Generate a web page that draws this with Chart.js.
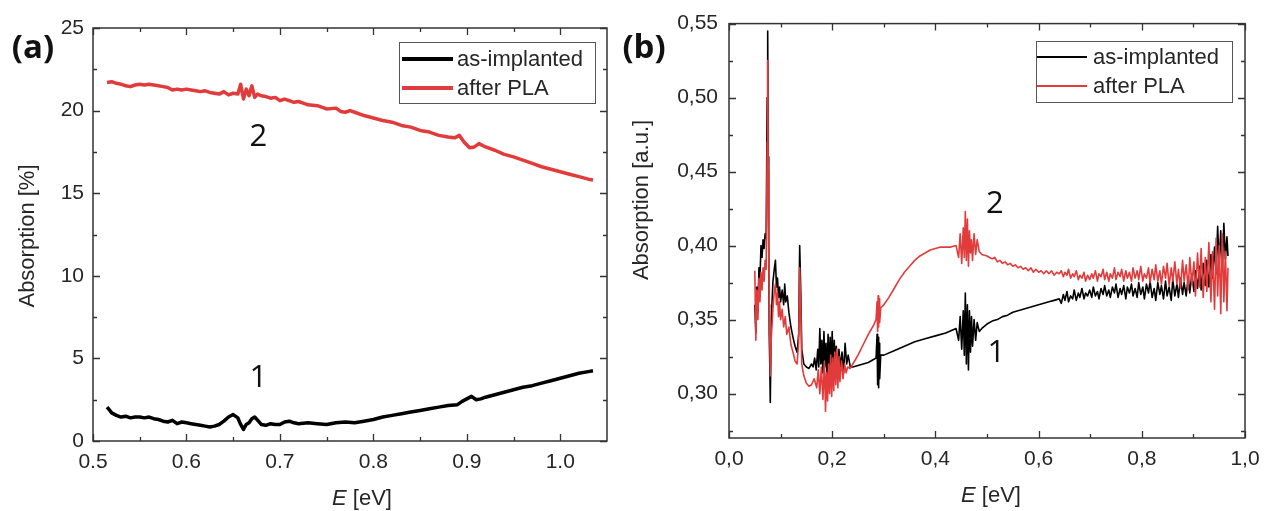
<!DOCTYPE html>
<html>
<head>
<meta charset="utf-8">
<script src="https://cdn.jsdelivr.net/npm/chart.js@4.4.1/dist/chart.umd.min.js"></script>
<style>
  html, body { margin: 0; padding: 0; background: #fff; }
  body { width: 1272px; height: 511px; position: relative; overflow: hidden; }
  canvas { position: absolute; top: 0; }
  #chartA { left: 0; }
  #chartB { left: 612px; }
</style>
</head>
<body>
<canvas id="chartA" width="612" height="511"></canvas>
<canvas id="chartB" width="660" height="511"></canvas>
<script>
// ---- data: panel (a), [E (eV), absorption %] ----
const implantedA = [
  [0.515,2.05],[0.518,1.85],[0.520,1.70],[0.525,1.55],[0.530,1.45],[0.535,1.50],[0.540,1.40],[0.545,1.45],
  [0.550,1.45],[0.555,1.40],[0.560,1.45],[0.565,1.35],[0.570,1.30],[0.575,1.20],[0.580,1.15],[0.585,1.25],
  [0.590,1.05],[0.595,1.15],[0.600,1.10],[0.605,1.05],[0.610,1.00],[0.615,0.95],[0.620,0.90],[0.625,0.85],
  [0.630,0.90],[0.635,1.00],[0.640,1.20],[0.645,1.45],[0.650,1.60],[0.655,1.40],[0.658,1.00],[0.661,0.70],
  [0.664,1.00],[0.667,1.10],[0.670,1.35],[0.673,1.45],[0.677,1.20],[0.680,1.00],[0.685,0.95],[0.690,1.05],
  [0.695,1.00],[0.700,1.00],[0.705,1.15],[0.710,1.20],[0.715,1.10],[0.720,1.05],[0.730,1.10],[0.740,1.05],
  [0.750,1.00],[0.760,1.10],[0.770,1.15],[0.780,1.10],[0.790,1.20],[0.800,1.30],[0.810,1.45],[0.820,1.55],
  [0.830,1.65],[0.840,1.75],[0.850,1.85],[0.860,1.95],[0.870,2.05],[0.880,2.15],[0.890,2.20],[0.895,2.40],
  [0.900,2.55],[0.905,2.70],[0.910,2.50],[0.915,2.55],[0.920,2.65],[0.930,2.80],[0.940,2.95],[0.950,3.10],
  [0.960,3.25],[0.970,3.35],[0.980,3.50],[0.990,3.65],[1.000,3.80],[1.010,3.95],[1.020,4.10],[1.030,4.20],[1.035,4.25]
];
const plaA = [
  [0.515,21.70],[0.520,21.75],[0.525,21.65],[0.530,21.60],[0.535,21.50],[0.540,21.45],[0.545,21.55],[0.550,21.60],
  [0.555,21.55],[0.560,21.60],[0.565,21.55],[0.570,21.50],[0.575,21.45],[0.580,21.40],[0.585,21.25],[0.590,21.30],
  [0.595,21.25],[0.600,21.30],[0.605,21.25],[0.610,21.20],[0.615,21.15],[0.620,21.20],[0.625,21.10],[0.630,21.05],
  [0.635,21.00],[0.640,21.15],[0.645,20.95],[0.650,21.05],[0.655,21.00],[0.658,21.60],[0.661,20.70],[0.664,21.30],
  [0.667,20.90],[0.670,21.50],[0.673,20.80],[0.676,21.00],[0.680,20.90],[0.685,20.85],[0.690,20.75],[0.695,20.80],
  [0.700,20.60],[0.705,20.70],[0.710,20.60],[0.715,20.50],[0.720,20.55],[0.725,20.45],[0.730,20.35],[0.740,20.30],
  [0.750,20.10],[0.760,20.15],[0.765,19.95],[0.770,19.90],[0.775,20.00],[0.780,19.90],[0.790,19.70],[0.800,19.55],
  [0.810,19.40],[0.820,19.30],[0.830,19.10],[0.840,19.00],[0.850,18.80],[0.860,18.70],[0.870,18.50],[0.880,18.40],
  [0.887,18.35],[0.892,18.50],[0.897,18.10],[0.903,17.75],[0.908,17.80],[0.913,18.00],[0.920,17.80],[0.930,17.60],
  [0.940,17.35],[0.950,17.20],[0.960,17.00],[0.970,16.80],[0.980,16.60],[0.990,16.45],[1.000,16.30],[1.010,16.15],
  [1.020,16.00],[1.030,15.85],[1.035,15.80]
];

// ---- data: panel (b), [E (eV), absorption a.u.] ----
const implantedB = [
  [0.050,0.360],[0.052,0.341],[0.054,0.372],[0.056,0.355],[0.058,0.385],[0.060,0.378],[0.062,0.400],[0.064,0.392],
  [0.066,0.404],[0.068,0.398],[0.070,0.408],[0.072,0.405],[0.074,0.500],[0.075,0.545],[0.076,0.460],[0.077,0.400],
  [0.078,0.340],[0.079,0.320],[0.080,0.294],[0.082,0.350],[0.085,0.375],[0.088,0.385],[0.090,0.390],[0.092,0.372],
  [0.094,0.378],[0.096,0.365],[0.098,0.372],[0.100,0.362],[0.103,0.370],[0.106,0.360],[0.108,0.374],[0.110,0.362],
  [0.113,0.366],[0.116,0.355],[0.120,0.345],[0.124,0.338],[0.128,0.332],[0.132,0.328],[0.135,0.340],[0.137,0.400],
  [0.139,0.370],[0.141,0.330],[0.145,0.320],[0.150,0.318],[0.155,0.317],[0.160,0.320],[0.163,0.318],[0.166,0.324],
  [0.169,0.316],[0.172,0.330],[0.174,0.318],[0.176,0.344],[0.178,0.320],[0.180,0.336],[0.182,0.314],[0.184,0.342],
  [0.186,0.318],[0.188,0.334],[0.190,0.312],[0.192,0.340],[0.194,0.316],[0.196,0.338],[0.198,0.318],[0.200,0.342],
  [0.202,0.314],[0.204,0.336],[0.206,0.318],[0.208,0.332],[0.210,0.312],[0.213,0.330],[0.216,0.318],[0.219,0.328],
  [0.222,0.314],[0.225,0.334],[0.228,0.320],[0.231,0.326],[0.235,0.318],[0.240,0.318],[0.250,0.319],[0.260,0.320],
  [0.270,0.321],[0.280,0.323],[0.285,0.324],[0.287,0.340],[0.288,0.306],[0.289,0.338],[0.290,0.304],[0.291,0.334],
  [0.292,0.310],[0.294,0.326],[0.300,0.326],[0.320,0.329],[0.340,0.332],[0.360,0.335],[0.380,0.337],[0.400,0.339],
  [0.420,0.341],[0.440,0.344],[0.445,0.336],[0.448,0.352],[0.451,0.330],[0.454,0.356],[0.456,0.326],[0.458,0.368],
  [0.460,0.320],[0.462,0.360],[0.464,0.316],[0.466,0.356],[0.468,0.328],[0.470,0.352],[0.472,0.332],[0.475,0.350],
  [0.478,0.336],[0.481,0.348],[0.485,0.342],[0.490,0.344],[0.500,0.347],[0.510,0.349],[0.520,0.350],[0.530,0.352],
  [0.540,0.353],[0.550,0.355],[0.560,0.356],[0.570,0.357],[0.580,0.358],[0.590,0.359],[0.600,0.360],[0.610,0.361],
  [0.620,0.362],[0.630,0.363],
  [0.640,0.364],[0.644,0.361],[0.648,0.367],[0.651,0.363],[0.655,0.369],[0.658,0.362],[0.662,0.366],[0.666,0.364],
  [0.669,0.370],[0.673,0.363],[0.677,0.368],[0.680,0.365],[0.684,0.371],[0.688,0.364],[0.691,0.368],[0.695,0.366],
  [0.699,0.370],[0.703,0.365],[0.706,0.372],[0.710,0.366],[0.714,0.369],[0.717,0.364],[0.721,0.371],[0.725,0.367],
  [0.728,0.373],[0.732,0.366],[0.736,0.370],[0.739,0.365],[0.743,0.372],[0.747,0.368],[0.750,0.374],[0.754,0.365],
  [0.758,0.371],[0.761,0.367],[0.765,0.373],[0.769,0.364],[0.772,0.372],[0.776,0.368],[0.780,0.374],[0.783,0.366],
  [0.787,0.371],[0.791,0.365],[0.794,0.375],[0.798,0.367],[0.802,0.372],[0.805,0.364],[0.809,0.374],[0.813,0.368],
  [0.816,0.376],[0.820,0.365],[0.824,0.371],[0.827,0.363],[0.831,0.375],[0.835,0.367],[0.838,0.373],[0.842,0.364],
  [0.846,0.376],[0.849,0.366],[0.853,0.372],[0.857,0.363],[0.860,0.377],[0.864,0.366],[0.868,0.374],[0.871,0.365],
  [0.875,0.378],[0.879,0.367],[0.882,0.375],[0.886,0.366],[0.890,0.379],[0.893,0.368],[0.897,0.381],[0.901,0.369],
  [0.904,0.383],[0.908,0.371],[0.912,0.386],[0.915,0.370],[0.919,0.388],[0.923,0.373],[0.926,0.390],[0.930,0.372],
  [0.934,0.394],[0.937,0.378],[0.941,0.399],[0.944,0.381],[0.947,0.413],[0.950,0.386],[0.953,0.410],[0.956,0.384],
  [0.959,0.415],[0.962,0.391],[0.965,0.406],[0.967,0.393]
];
const plaB = [
  [0.050,0.383],[0.052,0.336],[0.054,0.370],[0.056,0.350],[0.058,0.378],[0.060,0.362],[0.062,0.382],[0.064,0.370],
  [0.066,0.385],[0.068,0.376],[0.070,0.390],[0.072,0.384],[0.074,0.470],[0.075,0.525],[0.076,0.450],[0.077,0.395],
  [0.078,0.360],[0.079,0.340],[0.080,0.312],[0.082,0.338],[0.084,0.350],[0.086,0.362],[0.088,0.370],[0.090,0.374],
  [0.092,0.360],[0.094,0.368],[0.096,0.352],[0.098,0.362],[0.100,0.350],[0.103,0.357],[0.106,0.345],[0.109,0.352],
  [0.112,0.340],[0.116,0.345],[0.120,0.333],[0.124,0.328],[0.128,0.322],[0.132,0.320],[0.135,0.335],[0.137,0.385],
  [0.139,0.360],[0.141,0.320],[0.145,0.312],[0.150,0.307],[0.155,0.305],[0.160,0.306],[0.165,0.310],[0.170,0.304],
  [0.173,0.316],[0.176,0.300],[0.179,0.318],[0.182,0.296],[0.185,0.322],[0.187,0.288],[0.189,0.314],[0.191,0.295],
  [0.193,0.320],[0.195,0.300],[0.197,0.326],[0.199,0.298],[0.201,0.324],[0.203,0.302],[0.205,0.328],[0.207,0.306],
  [0.209,0.330],[0.211,0.304],[0.213,0.325],[0.215,0.308],[0.218,0.322],[0.221,0.310],[0.224,0.320],[0.227,0.314],
  [0.230,0.318],[0.235,0.317],[0.240,0.320],[0.250,0.326],[0.260,0.333],[0.270,0.340],[0.280,0.346],[0.285,0.350],
  [0.287,0.362],[0.288,0.342],[0.289,0.366],[0.290,0.345],[0.291,0.364],[0.292,0.348],[0.294,0.358],[0.300,0.360],
  [0.310,0.365],[0.320,0.371],[0.330,0.377],[0.340,0.382],[0.350,0.386],[0.360,0.390],[0.370,0.393],[0.380,0.395],
  [0.390,0.397],[0.400,0.398],[0.410,0.399],[0.420,0.399],[0.430,0.399],[0.440,0.400],[0.445,0.392],[0.448,0.408],
  [0.451,0.388],[0.454,0.412],[0.456,0.392],[0.458,0.423],[0.460,0.390],[0.462,0.418],[0.464,0.386],[0.466,0.410],
  [0.468,0.395],[0.470,0.404],[0.472,0.390],[0.475,0.408],[0.478,0.394],[0.481,0.404],[0.485,0.396],[0.490,0.394],
  [0.500,0.393],[0.505,0.392],[0.510,0.391],[0.515,0.392],[0.520,0.389],[0.525,0.390],[0.530,0.388],[0.535,0.389],
  [0.540,0.387],[0.545,0.388],[0.550,0.386],[0.555,0.387],[0.560,0.385],[0.565,0.386],[0.570,0.384],[0.575,0.385],
  [0.580,0.383],[0.585,0.385],[0.590,0.382],[0.595,0.384],[0.600,0.382],[0.605,0.383],[0.610,0.381],[0.615,0.383],
  [0.620,0.381],[0.625,0.383],[0.630,0.380],[0.635,0.382],
  [0.640,0.381],[0.644,0.383],[0.648,0.379],[0.651,0.382],[0.655,0.380],[0.658,0.384],[0.662,0.378],[0.666,0.381],
  [0.669,0.379],[0.673,0.383],[0.677,0.377],[0.680,0.380],[0.684,0.378],[0.688,0.382],[0.691,0.376],[0.695,0.380],
  [0.699,0.377],[0.703,0.381],[0.706,0.378],[0.710,0.383],[0.714,0.376],[0.717,0.381],[0.721,0.379],[0.725,0.384],
  [0.728,0.377],[0.732,0.382],[0.736,0.376],[0.739,0.381],[0.743,0.378],[0.747,0.385],[0.750,0.377],[0.754,0.382],
  [0.758,0.379],[0.761,0.384],[0.765,0.376],[0.769,0.383],[0.772,0.378],[0.776,0.382],[0.780,0.376],[0.783,0.385],
  [0.787,0.378],[0.791,0.383],[0.794,0.377],[0.798,0.386],[0.802,0.376],[0.805,0.381],[0.809,0.378],[0.813,0.385],
  [0.816,0.375],[0.820,0.384],[0.824,0.377],[0.827,0.387],[0.831,0.376],[0.835,0.383],[0.838,0.374],[0.842,0.386],
  [0.846,0.378],[0.849,0.388],[0.853,0.373],[0.857,0.385],[0.860,0.376],[0.864,0.389],[0.868,0.374],[0.871,0.384],
  [0.875,0.371],[0.879,0.390],[0.882,0.376],[0.886,0.387],[0.890,0.370],[0.893,0.392],[0.897,0.374],[0.901,0.389],
  [0.904,0.366],[0.908,0.395],[0.912,0.372],[0.915,0.398],[0.919,0.365],[0.923,0.392],[0.926,0.369],[0.930,0.402],
  [0.934,0.362],[0.937,0.396],[0.941,0.357],[0.944,0.405],[0.947,0.366],[0.950,0.400],[0.953,0.354],[0.956,0.408],
  [0.959,0.362],[0.962,0.396],[0.965,0.356],[0.967,0.385]
];

// ---- ticks ----
const xTicksA = [0.5, 0.6, 0.7, 0.8, 0.9, 1.0];
const xMinorA = [0.55, 0.65, 0.75, 0.85, 0.95];
const yTicksA = [0, 5, 10, 15, 20, 25];
const yMinorA = [2.5, 7.5, 12.5, 17.5, 22.5];
const xTicksB = [0.0, 0.2, 0.4, 0.6, 0.8, 1.0];
const xMinorB = [0.1, 0.3, 0.5, 0.7, 0.9];
const yTicksB = [0.30, 0.35, 0.40, 0.45, 0.50, 0.55];
const yMinorB = [0.275, 0.325, 0.375, 0.425, 0.475, 0.525];

const seriesNames = ['as-implanted', 'after PLA'];
const BLACK = '#000000';
const RED = '#e23b3b';
const SANS = '"Liberation Sans", Arial, sans-serif';
const OPEN = '"Open Sans", "Noto Sans", sans-serif';
const INK = '#262626';

const toXY = (pairs) => pairs.map(p => ({ x: p[0], y: p[1] }));
const comma = (v, d) => v.toFixed(d).replace('.', ',');

// frame, inward ticks, titles, labels and legend
const framePlugin = {
  id: 'frame',
  afterDraw(chart, args, o) {
    const { ctx, chartArea: a } = chart;
    const sx = chart.scales.x, sy = chart.scales.y;
    ctx.save();
    ctx.strokeStyle = '#333';
    ctx.lineWidth = 1.5;
    ctx.strokeRect(a.left, a.top, a.right - a.left, a.bottom - a.top);

    const xt = (vals, len) => vals.forEach(v => {
      const px = Math.round(sx.getPixelForValue(v)) + 0.5;
      ctx.beginPath();
      ctx.moveTo(px, a.bottom); ctx.lineTo(px, a.bottom - len);
      ctx.moveTo(px, a.top); ctx.lineTo(px, a.top + len);
      ctx.stroke();
    });
    const yt = (vals, len) => vals.forEach(v => {
      const py = Math.round(sy.getPixelForValue(v)) + 0.5;
      ctx.beginPath();
      ctx.moveTo(a.left, py); ctx.lineTo(a.left + len, py);
      ctx.moveTo(a.right, py); ctx.lineTo(a.right - len, py);
      ctx.stroke();
    });
    ctx.lineWidth = 1.3;
    xt(o.xMajor, 7); xt(o.xMinor, 4);
    yt(o.yMajor, 7); yt(o.yMinor, 4);

    ctx.fillStyle = INK;
    ctx.textBaseline = 'middle';

    // y title
    ctx.save();
    ctx.translate(o.yTitle.x, o.yTitle.y);
    ctx.rotate(-Math.PI / 2);
    ctx.textAlign = 'center';
    ctx.font = '22px ' + SANS;
    ctx.fillText(o.yTitle.text, 0, 0);
    ctx.restore();

    // x title: italic E [eV]
    ctx.textAlign = 'left';
    ctx.font = 'italic 22px ' + SANS;
    const wE = ctx.measureText('E').width;
    ctx.font = '22px ' + SANS;
    const wR = ctx.measureText(' [eV]').width;
    const x0 = o.xTitle.x - (wE + wR) / 2;
    ctx.font = 'italic 22px ' + SANS;
    ctx.fillText('E', x0, o.xTitle.y);
    ctx.font = '22px ' + SANS;
    ctx.fillText(' [eV]', x0 + wE, o.xTitle.y);

    // panel letter
    ctx.fillStyle = '#111';
    ctx.textAlign = 'center';
    ctx.font = 'bold 33px ' + OPEN;
    ctx.fillText(o.panel.text, o.panel.x, o.panel.y);

    // curve numbers placed in data coordinates
    ctx.font = '31px ' + OPEN;
    o.marks.forEach(m => {
      ctx.fillText(m.text, sx.getPixelForValue(m.x), sy.getPixelForValue(m.y));
    });

    // legend
    const L = o.legend;
    ctx.fillStyle = '#fff';
    ctx.fillRect(L.x1, L.y1, L.x2 - L.x1, L.y2 - L.y1);
    ctx.strokeStyle = '#555';
    ctx.lineWidth = 1;
    ctx.strokeRect(L.x1 + 0.5, L.y1 + 0.5, L.x2 - L.x1, L.y2 - L.y1);
    ctx.font = '22px ' + SANS;
    ctx.textAlign = 'left';
    chart.data.datasets.forEach((ds, i) => {
      const yy = L.rows[i];
      ctx.strokeStyle = ds.borderColor;
      ctx.lineWidth = L.lw;
      ctx.beginPath();
      ctx.moveTo(L.lx1, yy); ctx.lineTo(L.lx2, yy);
      ctx.stroke();
      ctx.fillStyle = INK;
      ctx.fillText(ds.label, L.tx, yy + 1);
    });
    ctx.restore();
  }
};

function makeScales(c) {
  return {
    x: {
      type: 'linear', min: c.xMin, max: c.xMax,
      grid: { display: false, drawTicks: false }, border: { display: false },
      ticks: { font: { family: SANS, size: 21 }, color: INK, padding: 9, maxRotation: 0, autoSkip: false, callback: c.fmtX },
      afterBuildTicks: s => { s.ticks = c.xTicks.map(v => ({ value: v })); },
      afterFit: s => { s.height = c.xH; }
    },
    y: {
      type: 'linear', min: c.yMin, max: c.yMax,
      grid: { display: false, drawTicks: false }, border: { display: false },
      ticks: { font: { family: SANS, size: 21 }, color: INK, padding: c.yPad, autoSkip: false, callback: c.fmtY },
      afterBuildTicks: s => { s.ticks = c.yTicks.map(v => ({ value: v })); },
      afterFit: s => { s.width = c.yW; }
    }
  };
}

function makeChart(id, c) {
  return new Chart(document.getElementById(id), {
    type: 'line',
    data: {
      datasets: [
        { label: seriesNames[0], data: toXY(c.implanted), borderColor: BLACK, borderWidth: c.lw, order: 1 },
        { label: seriesNames[1], data: toXY(c.pla), borderColor: RED, borderWidth: c.lw, order: 0 }
      ]
    },
    options: {
      responsive: false,
      animation: false,
      devicePixelRatio: 1,
      elements: { point: { radius: 0 }, line: { tension: 0, borderJoinStyle: 'round' } },
      layout: { padding: c.pad },
      plugins: { legend: { display: false }, tooltip: { enabled: false }, frame: c.frame },
      scales: makeScales(c)
    },
    plugins: [framePlugin]
  });
}

makeChart('chartA', {
  implanted: implantedA, pla: plaA, lw: 3.5,
  xMin: 0.5, xMax: 1.05, yMin: 0, yMax: 25,
  xTicks: xTicksA, yTicks: yTicksA,
  fmtX: v => v.toFixed(1), fmtY: v => String(v),
  xH: 70, yW: 93, yPad: 9,
  pad: { top: 28, right: 5, left: 0, bottom: 0 },
  frame: {
    xMajor: xTicksA, xMinor: xMinorA, yMajor: yTicksA, yMinor: yMinorA,
    yTitle: { text: 'Absorption [%]', x: 28, y: 236 },
    xTitle: { x: 362, y: 499 },
    panel: { text: '(a)', x: 33, y: 49 },
    marks: [{ text: '2', x: 0.677, y: 18.4 }, { text: '1', x: 0.677, y: 3.8 }],
    legend: { x1: 399, y1: 42, x2: 595, y2: 103, rows: [59, 88], lx1: 402, lx2: 453, tx: 457, lw: 4 }
  }
});

makeChart('chartB', {
  implanted: implantedB, pla: plaB, lw: 1.6,
  xMin: 0, xMax: 1.0, yMin: 0.27, yMax: 0.55,
  xTicks: xTicksB, yTicks: yTicksB,
  fmtX: v => comma(v, 1), fmtY: v => comma(v, 2),
  xH: 73, yW: 117, yPad: 11,
  pad: { top: 23, right: 27, left: 0, bottom: 0 },
  frame: {
    xMajor: xTicksB, xMinor: xMinorB, yMajor: yTicksB, yMinor: yMinorB,
    yTitle: { text: 'Absorption [a.u.]', x: 30, y: 200 },
    xTitle: { x: 379, y: 496 },
    panel: { text: '(b)', x: 32, y: 49 },
    marks: [{ text: '2', x: 0.515, y: 0.428 }, { text: '1', x: 0.518, y: 0.327 }],
    legend: { x1: 424, y1: 41, x2: 620, y2: 102, rows: [57, 86], lx1: 425, lx2: 475, tx: 481, lw: 2 }
  }
});
</script>
</body>
</html>
